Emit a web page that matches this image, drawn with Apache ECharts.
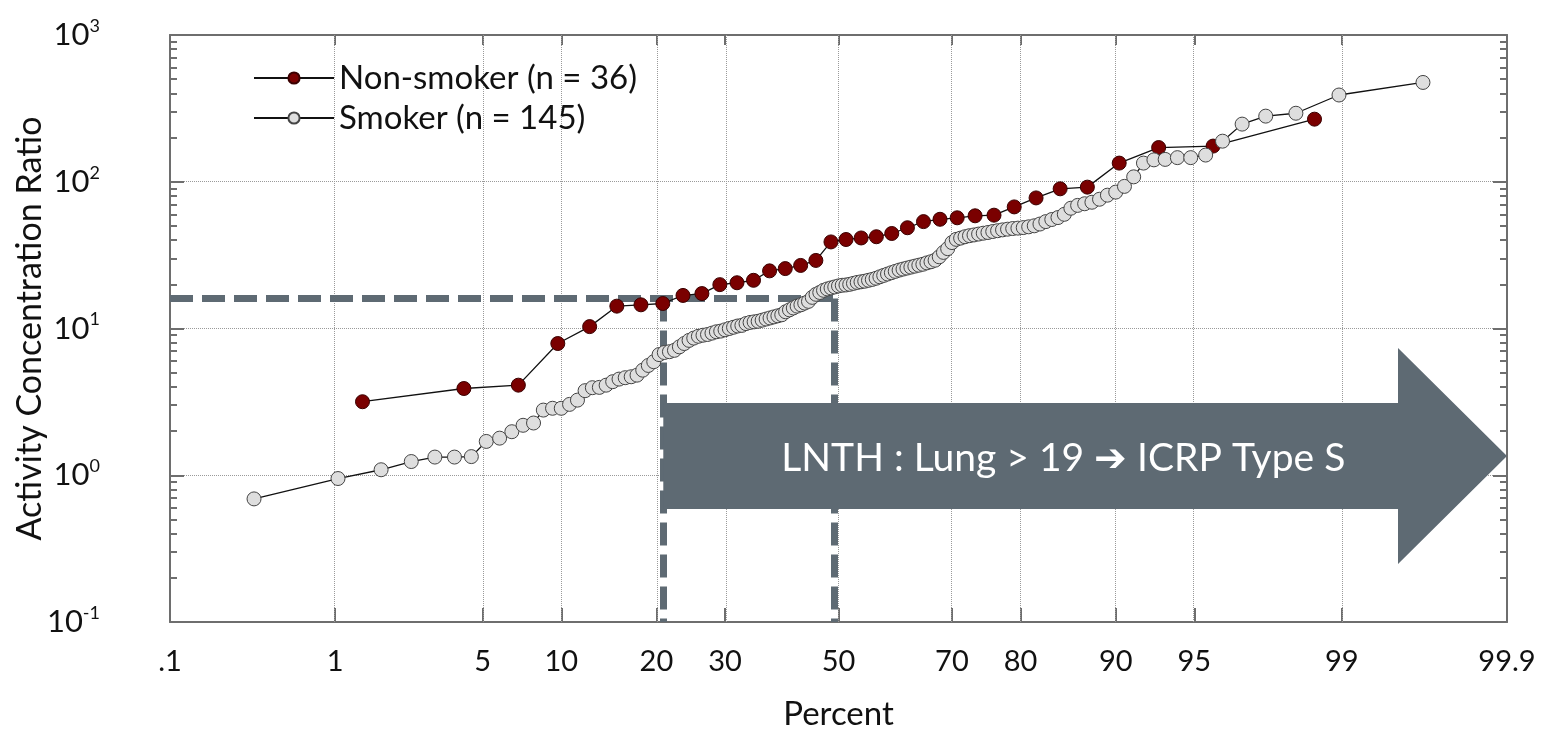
<!DOCTYPE html>
<html>
<head>
<meta charset="utf-8">
<script src="https://cdn.jsdelivr.net/npm/echarts@6/dist/echarts.min.js"></script>
<style>
  html, body { margin: 0; padding: 0; background: #fff; }
  #chart { width: 1549px; height: 731px; }
</style>
</head>
<body>
<div id="chart"></div>
<script>
// Sorted activity concentration ratios per group
const nonSmoker = [3.17, 3.90, 4.11, 7.9, 10.3, 14.2, 14.5, 14.8, 16.8, 17.3, 19.9, 20.5,
  21.3, 24.7, 25.6, 26.9, 29.1, 38.9, 40.4, 41.4, 42.2, 44.4, 48.6, 53.5, 55.5, 56.8,
  58.6, 59.2, 67.4, 77.6, 89.5, 91.9, 134, 171, 175, 267];

const smoker = [0.69, 0.95, 1.09, 1.24, 1.33, 1.33, 1.34, 1.70, 1.79, 1.98, 2.19, 2.27,
  2.78, 2.86, 2.86, 3.04, 3.25, 3.77, 3.95, 3.97, 4.11, 4.34, 4.52, 4.62, 4.69, 4.81,
  5.2, 5.6, 5.94, 6.64, 6.86, 6.95, 7.1, 7.5, 7.9, 8.3, 8.6, 8.85, 9.0, 9.1, 9.3, 9.5,
  9.6, 9.8, 10.0, 10.2, 10.4, 10.5, 10.8, 11.0, 11.1, 11.2, 11.4, 11.6, 11.8, 12.0,
  12.2, 12.4, 13.0, 13.4, 13.8, 14.2, 14.5, 14.9, 15.3, 16.3, 17.1, 17.6, 18.2, 18.6,
  18.9, 19.2, 19.5, 19.7, 19.8, 20.0, 20.3, 20.6, 20.8, 21.0, 21.3, 21.6, 22.0, 22.5,
  23.0, 23.5, 24.0, 24.5, 25.0, 25.4, 25.8, 26.2, 26.6, 27.0, 27.4, 28.0, 28.5, 29.2,
  30.8, 33, 35, 38.5, 40.5, 41.3, 42.2, 42.9, 43.4, 44.0, 44.6, 45.1, 45.8, 46.4, 47.0,
  47.5, 48.0, 48.3, 48.7, 49.3, 50.1, 51.5, 53.5, 55.3, 57, 60, 66, 69, 70.8, 72.5, 76,
  81, 85, 93, 108, 134, 141, 142, 146, 146, 152, 189, 247, 280, 293, 390, 475];

// Probability-axis ticks (percent) and their labels
const pctTicks = [0.1, 1, 5, 10, 20, 30, 50, 70, 80, 90, 95, 99, 99.9];
const pctLabels = ['.1', '1', '5', '10', '20', '30', '50', '70', '80', '90', '95', '99', '99.9'];
// Log-axis decades
const decadeTicks = [0.1, 1, 10, 100, 1000];

// Threshold annotation
const cutoffLevel = 16;
const cutoffPercents = [20.9, 49.3];
const arrowLevel = 1.35;
const arrowLabel = 'LNTH : Lung > 19 \u2794 ICRP Type S';

// Inverse standard normal CDF (Acklam) -> probability-paper x coordinate
function probit(p) {
  const a = [-3.969683028665376e+01, 2.209460984245205e+02, -2.759285104469687e+02,
    1.383577518672690e+02, -3.066479806614716e+01, 2.506628277459239e+00];
  const b = [-5.447609879822406e+01, 1.615858368580409e+02, -1.556989798598866e+02,
    6.680131188771972e+01, -1.328068155288572e+01];
  const c = [-7.784894002430293e-03, -3.223964580411365e-01, -2.400758277161838e+00,
    -2.549732539343734e+00, 4.374664141464968e+00, 2.938163982698783e+00];
  const d = [7.784695709041462e-03, 3.224671290700398e-01, 2.445134137142996e+00,
    3.754408661907416e+00];
  const pl = 0.02425, ph = 1 - pl;
  let q, r;
  if (p < pl) {
    q = Math.sqrt(-2 * Math.log(p));
    return (((((c[0] * q + c[1]) * q + c[2]) * q + c[3]) * q + c[4]) * q + c[5]) /
      ((((d[0] * q + d[1]) * q + d[2]) * q + d[3]) * q + 1);
  }
  if (p <= ph) {
    q = p - 0.5; r = q * q;
    return (((((a[0] * r + a[1]) * r + a[2]) * r + a[3]) * r + a[4]) * r + a[5]) * q /
      (((((b[0] * r + b[1]) * r + b[2]) * r + b[3]) * r + b[4]) * r + 1);
  }
  q = Math.sqrt(-2 * Math.log(1 - p));
  return -(((((c[0] * q + c[1]) * q + c[2]) * q + c[3]) * q + c[4]) * q + c[5]) /
    ((((d[0] * q + d[1]) * q + d[2]) * q + d[3]) * q + 1);
}

const zOf = pct => probit(pct / 100);
const tickZ = pctTicks.map(zOf);
const zMin = tickZ[0], zMax = tickZ[tickZ.length - 1];

// Hazen plotting positions for a sorted sample
function plotPoints(values) {
  const n = values.length;
  return values.map((v, i) => [zOf(100 * (i + 0.5) / n), v]);
}

const minorTicks = [];
for (let e = -1; e < 3; e++) {
  for (let k = 2; k <= 9; k++) minorTicks.push(k * Math.pow(10, e));
}

const FONT = 'Lato';
const axisColor = '#6e6e6e';
const annoColor = '#5e6a73';

function pctLabel(v) {
  let best = 0;
  tickZ.forEach((z, i) => { if (Math.abs(z - v) < Math.abs(tickZ[best] - v)) best = i; });
  return pctLabels[best];
}

const chart = echarts.init(document.getElementById('chart'), null, { renderer: 'canvas' });

const logAxisBase = { type: 'log', logBase: 10, min: 0.1, max: 1000 };

chart.setOption({
  animation: false,
  backgroundColor: '#fff',
  textStyle: { fontFamily: FONT },
  grid: { left: 170, right: 42, top: 35, bottom: 109, containLabel: false, outerBoundsMode: 'none' },
  legend: {
    data: ['Non-smoker (n = 36)', 'Smoker (n = 145)'],
    orient: 'vertical',
    left: 248, top: 55,
    itemWidth: 80, itemHeight: 14, itemGap: 4,
    textStyle: { fontFamily: FONT, fontSize: 33, color: '#111', lineHeight: 36 }
  },
  xAxis: [
    {
      type: 'value', position: 'bottom', min: zMin, max: zMax,
      name: 'Percent', nameLocation: 'middle', nameGap: 76, nameMoveOverlap: false,
      nameTextStyle: { fontFamily: FONT, fontSize: 33, color: '#111' },
      axisLine: { show: true, onZero: false, lineStyle: { color: axisColor, width: 2 } },
      axisTick: { show: true, inside: true, length: 14, customValues: tickZ,
        lineStyle: { color: axisColor, width: 2 } },
      axisLabel: { customValues: tickZ, formatter: pctLabel, margin: 25,
        fontFamily: FONT, fontSize: 29, color: '#111' },
      splitLine: { show: false }
    },
    {
      type: 'value', position: 'top', min: zMin, max: zMax,
      axisLine: { show: true, onZero: false, lineStyle: { color: axisColor, width: 2 } },
      axisTick: { show: true, inside: true, length: 10, customValues: tickZ,
        lineStyle: { color: axisColor, width: 2 } },
      axisLabel: { show: false },
      splitLine: { show: false }
    }
  ],
  yAxis: [
    Object.assign({}, logAxisBase, {
      position: 'left',
      name: 'Activity Concentration Ratio', nameLocation: 'middle', nameGap: 123, nameRotate: 90,
      nameMoveOverlap: false,
      nameTextStyle: { fontFamily: FONT, fontSize: 34, color: '#111' },
      axisLine: { show: true, onZero: false, lineStyle: { color: axisColor, width: 2 } },
      axisTick: { show: true, inside: true, length: 14, customValues: decadeTicks,
        lineStyle: { color: axisColor, width: 2 } },
      axisLabel: {
        customValues: decadeTicks, margin: 70,
        formatter: v => '{b|10}{s|' + Math.round(Math.log10(v)) + '}',
        rich: {
          b: { fontFamily: FONT, fontSize: 31, color: '#111' },
          s: { fontFamily: FONT, fontSize: 18, color: '#111', padding: [0, 0, 18, 0] }
        }
      },
      splitLine: { show: true, lineStyle: { type: 'dotted', color: '#9a9a9a', width: 1 } }
    }),
    Object.assign({}, logAxisBase, {
      position: 'left',
      axisLine: { show: false, onZero: false },
      axisTick: { show: true, inside: true, length: 7, customValues: minorTicks,
        lineStyle: { color: axisColor, width: 2 } },
      axisLabel: { show: false }, splitLine: { show: false }
    }),
    Object.assign({}, logAxisBase, {
      position: 'right',
      axisLine: { show: true, onZero: false, lineStyle: { color: axisColor, width: 2 } },
      axisTick: { show: true, inside: true, length: 14, customValues: decadeTicks,
        lineStyle: { color: axisColor, width: 2 } },
      axisLabel: { show: false }, splitLine: { show: false }
    }),
    Object.assign({}, logAxisBase, {
      position: 'right',
      axisLine: { show: false, onZero: false },
      axisTick: { show: true, inside: true, length: 7, customValues: minorTicks,
        lineStyle: { color: axisColor, width: 2 } },
      axisLabel: { show: false }, splitLine: { show: false }
    })
  ],
  series: [
    {
      // vertical probability grid lines
      type: 'line', data: [], silent: true, z: 1,
      markLine: {
        z: 1, silent: true, symbol: ['none', 'none'], label: { show: false },
        lineStyle: { type: 'dotted', color: '#9a9a9a', width: 1 },
        data: tickZ.slice(1, -1).map(z => ({ xAxis: z }))
      }
    },
    {
      // threshold guide lines
      type: 'line', data: [], silent: true, z: 2,
      markLine: {
        z: 2, silent: true, symbol: ['none', 'none'], label: { show: false },
        lineStyle: { type: [23, 9], color: annoColor, width: 7, cap: 'butt' },
        data: [
          [{ coord: [zMin, cutoffLevel] }, { coord: [zOf(cutoffPercents[1]), cutoffLevel] }],
          [{ coord: [zOf(cutoffPercents[0]), cutoffLevel] }, { coord: [zOf(cutoffPercents[0]), 0.1] }],
          [{ coord: [zOf(cutoffPercents[1]), cutoffLevel] }, { coord: [zOf(cutoffPercents[1]), 0.1] }]
        ]
      }
    },
    {
      // classification arrow
      type: 'custom', silent: true, z: 3,
      data: [[zOf(cutoffPercents[0]), arrowLevel]],
      renderItem: (params, api) => {
        const start = api.coord([api.value(0), api.value(1)]);
        const end = api.coord([zMax, api.value(1)]);
        const x0 = start[0], y = start[1], x1 = end[0];
        const bodyHalf = 53, headHalf = 108, headLen = 109;
        const xh = x1 - headLen;
        return {
          type: 'group',
          children: [
            {
              type: 'polygon',
              shape: { points: [[x0, y - bodyHalf], [xh, y - bodyHalf], [xh, y - headHalf], [x1, y],
                [xh, y + headHalf], [xh, y + bodyHalf], [x0, y + bodyHalf]] },
              style: { fill: annoColor }
            },
            {
              type: 'text', x: x0 + 118, y: y + 2,
              style: { text: arrowLabel, fill: '#fff', fontFamily: FONT, fontSize: 39,
                align: 'left', verticalAlign: 'middle' }
            }
          ]
        };
      }
    },
    {
      name: 'Non-smoker (n = 36)', type: 'line', z: 4,
      data: plotPoints(nonSmoker),
      symbol: 'circle', symbolSize: 14, showAllSymbol: true,
      lineStyle: { color: '#111', width: 1.3 },
      itemStyle: { color: '#7a0000', borderColor: '#3a0000', borderWidth: 1 }
    },
    {
      name: 'Smoker (n = 145)', type: 'line', z: 4,
      data: plotPoints(smoker),
      symbol: 'circle', symbolSize: 14, showAllSymbol: true,
      lineStyle: { color: '#111', width: 1.3 },
      itemStyle: { color: '#dedede', borderColor: '#444', borderWidth: 1 }
    }
  ]
});
</script>
</body>
</html>
